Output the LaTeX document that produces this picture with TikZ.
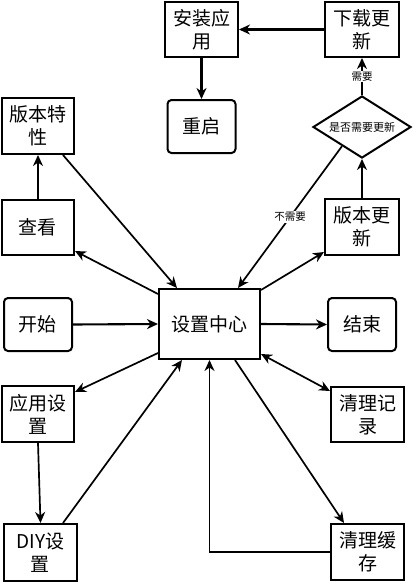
\documentclass[tikz,border=0pt]{standalone}
\usepackage{fontspec}
\setmainfont{Noto Sans CJK SC}
\usetikzlibrary{arrows.meta,shapes.geometric,calc}
\tikzset{
    plain-box/.style = {draw, line width=2pt, rectangle, align=center, inner sep=0pt, minimum width=73pt, minimum height=55pt, font=\fontsize{19}{23}\selectfont},
    rounded-box/.style = {plain-box, rounded corners=4pt, minimum width=68pt, minimum height=53pt},
    decision-box/.style = {draw, line width=2pt, diamond, aspect=1.58, inner sep=0pt, minimum width=98pt, minimum height=62pt, font=\fontsize{11}{13}\selectfont},
    link/.style = {line width=2.1pt, -{Stealth[length=11pt,width=10pt,inset=3.5pt]}},
    thin-link/.style = {link, line width=1.7pt},
    link-label/.style = {fill=white, inner sep=1pt, font=\fontsize{10.5}{12}\selectfont},
}

\begin{document}
\begin{tikzpicture}[x=1pt, y=-1pt]
\useasboundingbox (0,0) rectangle (413,582);
% boxes
\node[plain-box] (anzhuang) at (201.5,29.5) {安装应\\用};
\node[plain-box, minimum width=74pt] (xiazai) at (362,29.5) {下载更\\新};
\node[rounded-box] (chongqi) at (201.5,126.5) {重启};
\node[decision-box] (panduan) at (362,127) {是否需要更新};
\node[plain-box, minimum width=72pt, minimum height=56pt] (texing) at (38,126) {版本特\\性};
\node[plain-box, minimum width=72pt] (chakan) at (38,227.5) {查看};
\node[plain-box, minimum width=74pt, minimum height=56pt] (gengxin) at (362,227) {版本更\\新};
\node[plain-box, minimum width=101pt, minimum height=70pt] (zhongxin) at (209.5,324) {设置中心};
\node[rounded-box] (kaishi) at (38,324.5) {开始};
\node[rounded-box] (jieshu) at (362,324.5) {结束};
\node[plain-box, minimum width=72pt, minimum height=56pt] (yingyong) at (38,414) {应用设\\置};
\node[plain-box] (jilu) at (367.5,414.5) {清理记\\录};
\node[plain-box, minimum height=57pt] (diy) at (40.5,552.5) {DIY设\\置};
\node[plain-box, minimum height=56pt] (huancun) at (367.5,552) {清理缓\\存};

% update branch
\draw[link] (xiazai.west) -- (anzhuang.east);
\draw[link] (anzhuang.south) -- (chongqi.north);
\draw[link] (panduan.north) -- node[link-label] {需要} (xiazai.south);
\draw[link] (gengxin.north) -- (panduan.south);
\draw[thin-link] ($(panduan.west)!0.6!(panduan.south)$) -- node[link-label, pos=0.5] {不需要} ([xshift=-23pt]zhongxin.north east);
\draw[thin-link] ([yshift=-2pt]zhongxin.north east) -- ([yshift=4pt]gengxin.south west);

% left side
\draw[link] (chakan.north) -- (texing.south);
\draw[thin-link] ([yshift=-6pt]zhongxin.north west) -- ([yshift=5pt]chakan.south east);
\draw[thin-link] ([xshift=-12pt]texing.south east) -- ([xshift=19pt]zhongxin.north west);
\draw[link] (kaishi.east) -- (zhongxin.west);
\draw[thin-link] ([yshift=7pt]zhongxin.south west) -- ([yshift=-7pt]yingyong.north east);
\draw[thin-link] (yingyong.south) -- (diy.north);
\draw[thin-link] ([xshift=-15pt]diy.north east) -- ([xshift=24pt]zhongxin.south west);

% right side
\draw[link] (zhongxin.east) -- (jieshu.west);
\draw[thin-link, {Stealth[length=11pt,width=10pt,inset=3.5pt]}-{Stealth[length=11pt,width=10pt,inset=3.5pt]}] ([yshift=6pt]zhongxin.south east) -- ([yshift=-5pt]jilu.north west);
\draw[thin-link] ([xshift=-26pt]zhongxin.south east) -- ([xshift=14pt]huancun.north west);
\draw[thin-link] (huancun.west) -| (zhongxin.south);
\end{tikzpicture}
\end{document}
